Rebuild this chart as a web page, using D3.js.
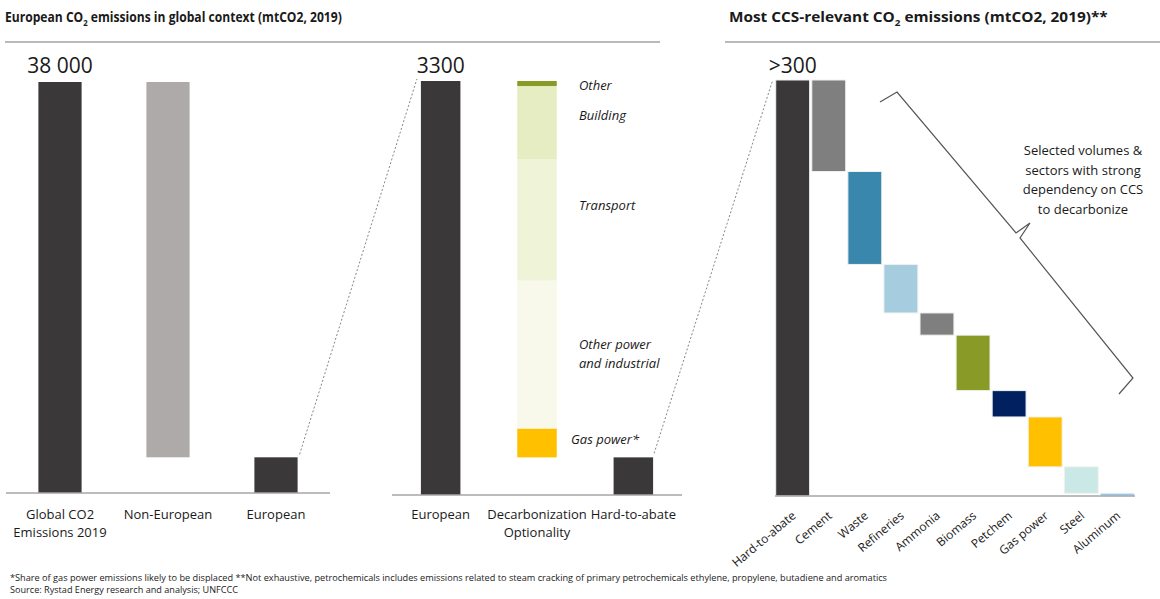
<!DOCTYPE html>
<html lang="en">
<head>
<meta charset="UTF-8">
<title>European CO2 emissions</title>
<style>
  body { margin: 0; background: #fff; }
  text { font-family: "Open Sans", sans-serif; fill: #1a1a1a; }
</style>
</head>
<body>
<script src="https://cdn.jsdelivr.net/npm/d3@7"></script>
<script>
// left panel
var globalCats = ["Global CO2|Emissions 2019", "Non-European", "European"];
var globalTotal = 38000;
var europeanTotal = 3300;

// middle panel
var midCats = ["European", "Decarbonization|Optionality", "Hard-to-abate"];
var hardToAbate = 300;
var optionSegments = ["Gas power*", "Other power|and industrial", "Transport", "Building", "Other"];
var optionValues = [230, 1180, 965, 585, 40];
var optionColors = ["#ffc000", "#f8f9ea", "#eff3d7", "#e6edc2", "#8a9a27"];

// right panel
var ccsCats = ["Hard-to-abate", "Cement", "Waste", "Refineries", "Ammonia", "Biomass", "Petchem", "Gas power", "Steel", "Aluminum"];
var ccsValues = [300, 66, 67, 35, 16, 40, 19, 36, 19, 2];
var ccsColors = ["#3a3839", "#7f7f7f", "#3a87ad", "#a6cce0", "#7f7f7f", "#8a9a27", "#002060", "#ffc000", "#c9e8e6", "#8ec8f0"];

var w = 1160, h = 599;
var dark = "#3a3839";

var svg = d3.select("body").append("svg")
    .attr("width", w)
    .attr("height", h);

// titles (squeezed horizontally to the narrow slide font width)
function title(x, y, before, after, len) {
    var t = svg.append("text")
        .attr("font-size", "14px")
        .attr("font-weight", "bold");
    t.append("tspan").text(before + "CO");
    t.append("tspan").attr("font-size", "9px").attr("dy", 4).text("2");
    t.append("tspan").attr("dy", -4).text(" " + after);
    var k = len / t.node().getComputedTextLength();
    t.attr("transform", "translate(" + x + "," + y + ") scale(" + k + ",1)");
}
title(5, 22, "European ", "emissions in global context (mtCO2, 2019)", 337);
title(729, 22, "Most CCS-relevant ", "emissions (mtCO2, 2019)**", 379);

svg.append("line").attr("x1", 5).attr("x2", 660).attr("y1", 42).attr("y2", 42)
    .attr("stroke", "#777").attr("stroke-width", 1.2);
svg.append("line").attr("x1", 725).attr("x2", 1160).attr("y1", 42).attr("y2", 42)
    .attr("stroke", "#777").attr("stroke-width", 1.2);

function catLabel(g, x, y, label) {
    var lines = label.split("|");
    var t = g.append("text")
        .attr("x", x).attr("y", y)
        .attr("text-anchor", "middle")
        .attr("font-size", "13px");
    lines.forEach(function(l, i) {
        t.append("tspan").attr("x", x).attr("dy", i ? 18 : 0).text(l);
    });
}

// ---------- left panel ----------
var xL = d3.scaleBand().domain(globalCats).range([6, 330]).paddingInner(0.6).paddingOuter(0.3);
var yL = d3.scaleLinear().domain([0, globalTotal]).range([493, 82]);

var leftBars = [
    {cat: globalCats[0], y0: 0, y1: globalTotal, color: dark},
    {cat: globalCats[1], y0: europeanTotal, y1: globalTotal, color: "#aeaaaa"},
    {cat: globalCats[2], y0: 0, y1: europeanTotal, color: dark}
];

var gL = svg.append("g");
gL.selectAll("rect")
    .data(leftBars)
    .enter()
    .append("rect")
    .attr("x", function(d) { return xL(d.cat); })
    .attr("width", xL.bandwidth())
    .attr("y", function(d) { return yL(d.y1); })
    .attr("height", function(d) { return yL(d.y0) - yL(d.y1); })
    .attr("fill", function(d) { return d.color; });

gL.append("line").attr("x1", 6).attr("x2", 330).attr("y1", yL(0)).attr("y2", yL(0))
    .attr("stroke", "#a6a6a6").attr("stroke-width", 1.5);

globalCats.forEach(function(c) {
    catLabel(gL, xL(c) + xL.bandwidth() / 2, 519, c);
});

gL.append("text")
    .attr("x", xL(globalCats[0]) + xL.bandwidth() / 2).attr("y", 73)
    .attr("text-anchor", "middle").attr("font-size", "21px")
    .text("38 000");

// ---------- middle panel ----------
var xM = d3.scaleBand().domain(midCats).range([392, 682]).paddingInner(0.59).paddingOuter(0.3);
var yM = d3.scaleLinear().domain([0, europeanTotal]).range([495, 81]);

var gM = svg.append("g");
gM.append("rect")
    .attr("x", xM(midCats[0])).attr("width", xM.bandwidth())
    .attr("y", yM(europeanTotal)).attr("height", yM(0) - yM(europeanTotal))
    .attr("fill", dark);
gM.append("rect")
    .attr("x", xM(midCats[2])).attr("width", xM.bandwidth())
    .attr("y", yM(hardToAbate)).attr("height", yM(0) - yM(hardToAbate))
    .attr("fill", dark);

var cum = hardToAbate;
var segs = optionValues.map(function(v, i) {
    var s = {name: optionSegments[i], y0: cum, y1: cum + v, color: optionColors[i]};
    cum += v;
    return s;
});

gM.selectAll("rect.seg")
    .data(segs)
    .enter()
    .append("rect")
    .attr("class", "seg")
    .attr("x", xM(midCats[1]))
    .attr("width", xM.bandwidth())
    .attr("y", function(d) { return yM(d.y1); })
    .attr("height", function(d) { return yM(d.y0) - yM(d.y1); })
    .attr("fill", function(d) { return d.color; });

// segment labels, nudged a bit like the original slide
var nudge = {"Other": 2, "Building": -7, "Transport": -14, "Gas power*": -3};
gM.selectAll("text.seg")
    .data(segs)
    .enter()
    .append("text")
    .attr("class", "seg")
    .attr("font-size", "13px")
    .attr("font-style", "italic")
    .each(function(d) {
        var lines = d.name.split("|");
        var x = d.name === "Gas power*" ? 571 : 579;
        var mid = yM((d.y0 + d.y1) / 2) + 4 + (nudge[d.name] || 0) - (lines.length - 1) * 9;
        var t = d3.select(this).attr("x", x).attr("y", mid);
        lines.forEach(function(l, i) {
            t.append("tspan").attr("x", x).attr("dy", i ? 19 : 0).text(l);
        });
    });

gM.append("line").attr("x1", 392).attr("x2", 682).attr("y1", yM(0)).attr("y2", yM(0))
    .attr("stroke", "#a6a6a6").attr("stroke-width", 1.5);

midCats.forEach(function(c) {
    catLabel(gM, xM(c) + xM.bandwidth() / 2, 519, c);
});

gM.append("text")
    .attr("x", xM(midCats[0]) + xM.bandwidth() / 2).attr("y", 73)
    .attr("text-anchor", "middle").attr("font-size", "21px")
    .text("3300");

// ---------- right panel ----------
var xR = d3.scaleBand().domain(ccsCats).range([775, 1135]).paddingInner(0.06).paddingOuter(0.02);
var yR = d3.scaleLinear().domain([0, ccsValues[0]]).range([496, 80]);

var running = ccsValues[0];
var ccsBars = ccsValues.map(function(v, i) {
    if (i === 0) return {cat: ccsCats[i], y0: 0, y1: v, color: ccsColors[i]};
    var b = {cat: ccsCats[i], y0: running - v, y1: running, color: ccsColors[i]};
    running -= v;
    return b;
});

var gR = svg.append("g");
gR.selectAll("rect")
    .data(ccsBars)
    .enter()
    .append("rect")
    .attr("x", function(d) { return xR(d.cat); })
    .attr("width", xR.bandwidth())
    .attr("y", function(d) { return yR(d.y1); })
    .attr("height", function(d) { return Math.max(2, yR(d.y0) - yR(d.y1)); })
    .attr("fill", function(d) { return d.color; })
    .attr("stroke", "#eef2ee")
    .attr("stroke-width", 1);

gR.append("line").attr("x1", 775).attr("x2", 1135).attr("y1", yR(0)).attr("y2", yR(0))
    .attr("stroke", "#a6a6a6").attr("stroke-width", 1.5);

gR.selectAll("text.cat")
    .data(ccsCats)
    .enter()
    .append("text")
    .attr("class", "cat")
    .attr("font-size", "12px")
    .attr("text-anchor", "end")
    .attr("transform", function(d) {
        return "translate(" + (xR(d) + xR.bandwidth() / 2 + 4) + "," + 517 + ") rotate(-40)";
    })
    .text(function(d) { return d; });

gR.append("text")
    .attr("x", xR(ccsCats[0]) + xR.bandwidth() / 2).attr("y", 73)
    .attr("text-anchor", "middle").attr("font-size", "21px")
    .text(">300");

// brace
var brace = [[880, 102], [897, 92], [1016, 233], [1030, 223], [1020, 238], [1133, 378], [1119, 394]];
gR.append("path")
    .attr("d", d3.line().curve(d3.curveLinear)(brace))
    .attr("fill", "none")
    .attr("stroke", "#555")
    .attr("stroke-width", 1.2);

var note = ["Selected volumes &", "sectors with strong", "dependency on CCS", "to decarbonize"];
var nt = gR.append("text").attr("x", 1083).attr("y", 155)
    .attr("text-anchor", "middle").attr("font-size", "13px");
note.forEach(function(l, i) {
    nt.append("tspan").attr("x", 1083).attr("dy", i ? 19.5 : 0).text(l);
});

// dashed connectors
svg.append("line").attr("x1", xL(globalCats[2]) + xL.bandwidth() + 2).attr("y1", yL(europeanTotal) - 3)
    .attr("x2", xM(midCats[0]) - 4).attr("y2", yM(europeanTotal) - 2)
    .attr("stroke", "#666").attr("stroke-width", 0.8).attr("stroke-dasharray", "2,2");
svg.append("line").attr("x1", xM(midCats[2]) + xM.bandwidth() + 1).attr("y1", yM(hardToAbate) - 4)
    .attr("x2", xR(ccsCats[0]) - 3).attr("y2", yR(ccsValues[0]))
    .attr("stroke", "#666").attr("stroke-width", 0.8).attr("stroke-dasharray", "2,2");

// footnotes
svg.append("text").attr("x", 10).attr("y", 581)
    .attr("font-size", "9px")
    .attr("textLength", 877).attr("lengthAdjust", "spacingAndGlyphs")
    .text("*Share of gas power emissions likely to be displaced **Not exhaustive, petrochemicals includes emissions related to steam cracking of primary petrochemicals ethylene, propylene, butadiene and aromatics");
svg.append("text").attr("x", 10).attr("y", 593)
    .attr("font-size", "9px")
    .attr("textLength", 228).attr("lengthAdjust", "spacingAndGlyphs")
    .text("Source: Rystad Energy research and analysis; UNFCCC");
</script>
</body>
</html>
